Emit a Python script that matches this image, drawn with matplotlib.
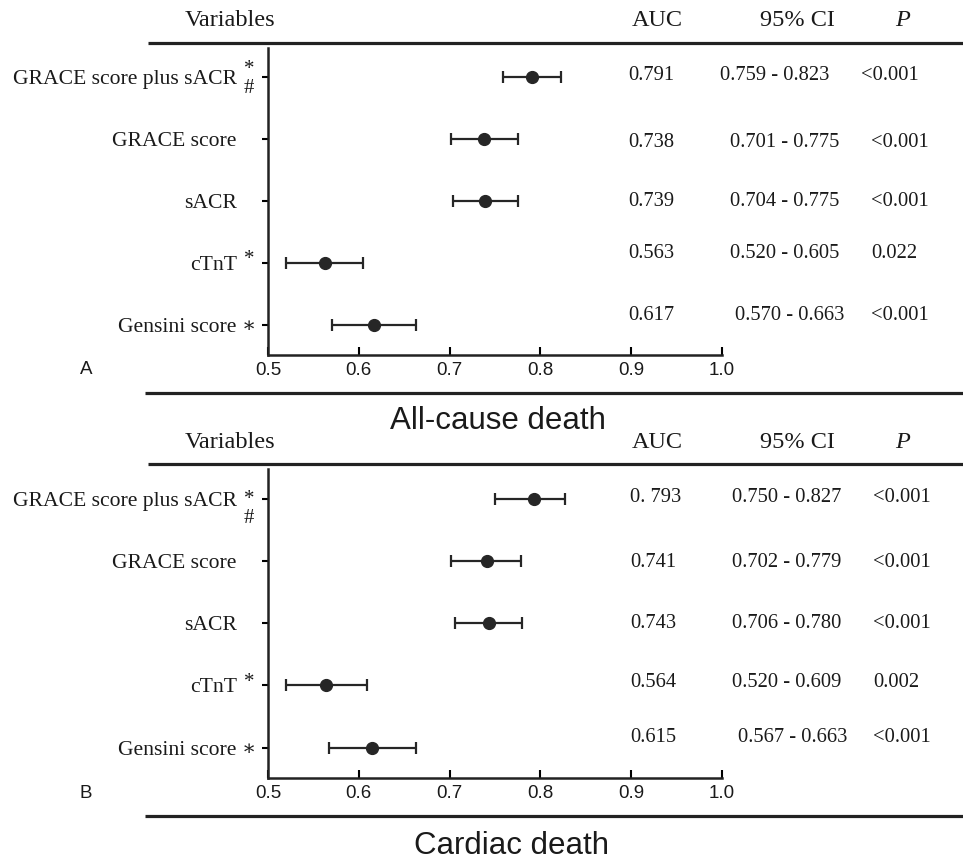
import matplotlib
matplotlib.use("Agg")
import matplotlib.pyplot as plt
from matplotlib.lines import Line2D
import numpy as np

# Data
variables = ["GRACE score plus sACR", "GRACE score", "sACR", "cTnT", "Gensini score"]

auc_a = [0.791, 0.738, 0.739, 0.563, 0.617]
lo_a = [0.759, 0.701, 0.704, 0.520, 0.570]
hi_a = [0.823, 0.775, 0.775, 0.605, 0.663]
p_a = ["<0.001", "<0.001", "<0.001", "0.022", "<0.001"]

auc_b = [0.793, 0.741, 0.743, 0.564, 0.615]
lo_b = [0.750, 0.702, 0.706, 0.520, 0.567]
hi_b = [0.827, 0.779, 0.780, 0.609, 0.663]
p_b = ["<0.001", "<0.001", "<0.001", "0.002", "<0.001"]
auc_text_b = ["0. 793", "0.741", "0.743", "0.564", "0.615"]

x_ticks = [0.5, 0.6, 0.7, 0.8, 0.9, 1.0]
tick_labels = ["0.5", "0.6", "0.7", "0.8", "0.9", "1.0"]

# Layout in figure pixels
W, H = 963, 860
SERIF = ["Liberation Serif", "DejaVu Serif"]
SANS = "Liberation Sans"
INK = "#1a1a1a"


def fx(x):
    return x / W


def fy(y):
    return 1 - y / H


fig = plt.figure(figsize=(W / 100, H / 100), dpi=100)
fig.patch.set_facecolor("white")


def hline(x0, y):
    fig.add_artist(Line2D([fx(x0), 1.0], [fy(y), fy(y)], transform=fig.transFigure,
                          color="#222222", lw=2.3, solid_capstyle="butt"))


def panel(top, bottom, auc, lo, hi, auc_txt, p_txt, text_dy, cols, marks, letter,
          title, title_x, title_y, line_top, line_bot, header_y):
    ax = fig.add_axes([fx(268), fy(bottom), fx(722 - 268), (bottom - top) / H])
    ypos = np.arange(len(variables))[::-1]
    auc = np.array(auc)
    xerr = [auc - np.array(lo), np.array(hi) - auc]
    ax.errorbar(auc, ypos, xerr=xerr, fmt="o", color="#262626", ms=8.5,
                elinewidth=1.6, capsize=4, capthick=1.6, zorder=3)
    ax.set_xlim(0.5, 1.0)
    ax.set_ylim(-0.49, 4.475)
    ax.set_xticks(x_ticks)
    ax.set_xticklabels(tick_labels, fontfamily=SANS, fontsize=13.5, color=INK)
    ax.set_yticks(ypos)
    ax.set_yticklabels(variables, fontfamily=SERIF, fontsize=15.6, color=INK)
    ax.spines["top"].set_visible(False)
    ax.spines["right"].set_visible(False)
    for s in ("left", "bottom"):
        ax.spines[s].set_linewidth(1.8)
        ax.spines[s].set_color("#222222")
    ax.tick_params(axis="y", direction="out", length=4.5, width=1.5, pad=18)
    ax.tick_params(axis="x", direction="in", length=6, width=1.5, pad=5)
    ax.set_facecolor("white")

    # table columns
    auc_x, ci_x, p_x = cols
    for i, y in enumerate(ypos):
        dy = -text_dy[i] * 0.72
        for xp, s in ((auc_x[i], auc_txt[i]), (ci_x[i], f"{lo[i]:.3f} - {hi[i]:.3f}"),
                      (p_x[i], p_txt[i])):
            ax.annotate(s, xy=(fx(xp), y), xycoords=("figure fraction", "data"),
                        xytext=(0, dy), textcoords="offset points",
                        ha="left", va="center", fontfamily=SERIF, fontsize=14.8,
                        color=INK, annotation_clip=False)

    # significance marks next to labels
    for row, sym, dpx in marks:
        ax.annotate(sym, xy=(fx(249), ypos[row]), xycoords=("figure fraction", "data"),
                    xytext=(0, -dpx * 0.72), textcoords="offset points",
                    ha="center", va="center", fontfamily=SERIF, fontsize=15,
                    color=INK, annotation_clip=False)

    # headers
    for hx, s, st in ((230, "Variables", "normal"), (657, "AUC", "normal"),
                      (797, "95% CI", "normal"), (903, "P", "italic")):
        fig.text(fx(hx), fy(header_y), s, ha="center", va="center",
                 fontfamily=SERIF, fontsize=17.5, style=st, color=INK)

    hline(148, line_top)
    hline(145, line_bot)
    fig.text(fx(86), fy(bottom + 15), letter, ha="center", va="center",
             fontfamily=SANS, fontsize=13.5, color=INK)
    fig.text(fx(title_x), fy(title_y), title, ha="center", va="center",
             fontfamily=SANS, fontsize=22.5, color=INK)
    return ax


panel(48, 355, auc_a, lo_a, hi_a, [f"{v:.3f}" for v in auc_a], p_a,
      [-2, 3, 0, -9, -9],
      ([628] * 5, [720, 730, 730, 730, 735], [861, 871, 871, 871, 871]),
      [(0, "*", -8), (0, "#", 11), (3, "*", -3), (4, "\u2217", 3)],
      "A", "All-cause death", 498, 421, 43, 393, 20)

panel(469, 778, auc_b, lo_b, hi_b, auc_text_b, p_b,
      [-1, 2, 0, -3, -10],
      ([630] * 5, [732, 732, 732, 732, 738], [873] * 5),
      [(0, "*", 1), (0, "#", 20), (3, "*", -3), (4, "\u2217", 3)],
      "B", "Cardiac death", 511, 846, 464, 816, 443)

fig.savefig("out.png", dpi=100, facecolor="white")
